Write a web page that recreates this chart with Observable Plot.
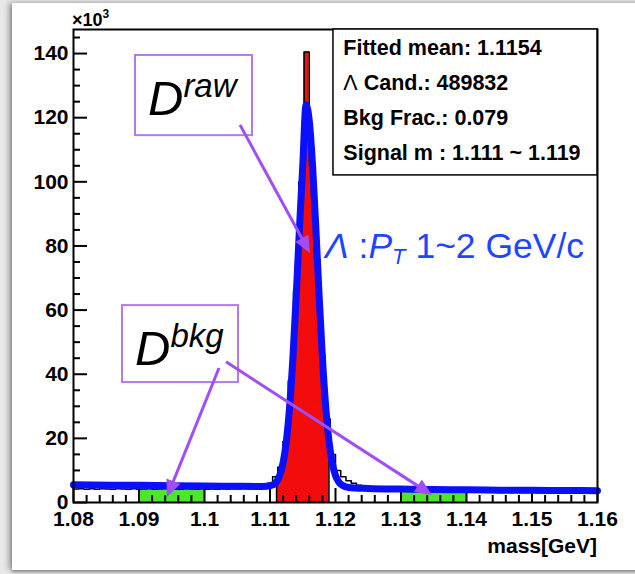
<!DOCTYPE html>
<html>
<head>
<meta charset="utf-8">
<script src="https://cdn.jsdelivr.net/npm/d3@7"></script>
<script src="https://cdn.jsdelivr.net/npm/@observablehq/plot@0.6"></script>
<style>
  html, body { margin: 0; padding: 0; background: #fff; }
  #wrap { position: relative; width: 635px; height: 574px; overflow: hidden; background: #e9e9e9; }
  #card { position: absolute; left: 12px; top: 3px; width: 640px; height: 567px; background: #fff;
          box-shadow: -3px 0 6px rgba(0,0,0,0.35), 0 2px 3px rgba(0,0,0,0.3); }
  #chart { position: absolute; left: 0; top: 0; }
</style>
</head>
<body>
<div id="wrap"><div id="card"></div><div id="chart"></div></div>
<script>
// ---------------- data ----------------
const massMin = 1.08, massMax = 1.16, binWidth = 0.0008, yMax = 147.5;   // counts in units of 10^3
const counts = [
  4.2, 4.3, 4.1, 4.25, 4.15, 4.3, 4.2, 4.1, 4.25, 4.2,
  4.15, 4.3, 4.1, 4.2, 4.25, 4.1, 4.2, 4.3, 4.15, 4.2,
  4.1, 4.25, 4.2, 4.1, 4.3, 4.15, 4.2, 4.1, 4.25, 4.2,
  4.3, 4.2, 4.35, 4.3, 4.5, 4.9, 5.4, 6.0, 8.0, 11,
  19, 38, 66, 100, 140.5, 105, 76, 46, 26, 15,
  10, 8, 6.8, 6.0, 5.4, 4.9, 4.5, 4.2, 4.0, 3.9,
  3.8, 3.7, 3.65, 3.5, 3.55, 3.45, 3.4, 3.5, 3.4, 3.35,
  3.4, 3.3, 3.4, 3.3, 3.25, 3.3, 3.2, 3.3, 3.2, 3.25,
  3.2, 3.15, 3.2, 3.1, 3.2, 3.15, 3.1, 3.2, 3.1, 3.15,
  3.1, 3.05, 3.1, 3.15, 3.0, 3.1, 3.05, 3.1, 3.0, 3.1
];
const fitMass = [1.080, 1.090, 1.100, 1.105, 1.108, 1.1095, 1.1105, 1.111, 1.1115, 1.112, 1.1125, 1.113,
  1.1135, 1.114, 1.1145, 1.115, 1.1155, 1.116, 1.1165, 1.117, 1.1175, 1.118, 1.1185, 1.119, 1.1195,
  1.120, 1.1205, 1.121, 1.122, 1.125, 1.130, 1.135, 1.140, 1.145, 1.150, 1.155, 1.160];
const fitValue = [5.5, 5.35, 5.15, 5.05, 5.0, 5.1, 5.5, 6.5, 8.5, 12.4, 19.2, 30,
  45.2, 64.4, 85.6, 105, 124, 118.9, 105, 85.6, 64.4, 45.2, 30, 19.2, 12.4,
  8.4, 6.4, 5.4, 4.7, 4.4, 4.2, 4.05, 3.95, 3.85, 3.8, 3.75, 3.7];
const signalRange = [1.111, 1.119];
const bkgRanges = [[1.09, 1.10], [1.13, 1.14]];
const xTicks = [1.08, 1.09, 1.10, 1.11, 1.12, 1.13, 1.14, 1.15, 1.16];
const xTickLabels = ["1.08", "1.09", "1.1", "1.11", "1.12", "1.13", "1.14", "1.15", "1.16"];
const yTicks = [0, 20, 40, 60, 80, 100, 120, 140];
const yTickLabels = ["0", "20", "40", "60", "80", "100", "120", "140"];
const statLines = ["Fitted mean: 1.1154", "Λ Cand.: 489832", "Bkg Frac.: 0.079", "Signal m : 1.111 ~ 1.119"];
const ptLabelParts = ["Λ", " :", "P", "T", " 1~2 GeV/c"];
const xAxisTitle = "mass[GeV]";

// annotation placement (data coordinates)
const statBox = {x1: 1.11969, x2: 1.16, y1: 102.0, y2: 147.5};
const statTextMass = 1.12127;
const statTextY = [139.3, 128.4, 117.6, 106.5];
const annotBoxes = [
  {x1: 1.08947, x2: 1.10733, y1: 114.4, y2: 139.4, sup: "raw", m: 1.09145, v: 120.7},
  {x1: 1.08748, x2: 1.10519, y1: 37.4, y2: 61.4, sup: "bkg", m: 1.08947, v: 42.7}
];
const arrows = [
  {m1: 1.1055, v1: 117.6, m2: 1.11618, v2: 77.6},
  {m1: 1.10229, v1: 41.8, m2: 1.09435, v2: 1.56},
  {m1: 1.10336, v1: 43.7, m2: 1.13481, v2: 2.18}
];
const ptLabelPos = {m: 1.11847, v: 76.1};

// ---------------- derived tables ----------------
const bins = counts.map((c, i) => ({lo: massMin + i * binWidth, hi: massMin + (i + 1) * binWidth, c}));
// step outline of the histogram restricted to a mass range (one series per range)
function rangeSteps(r, key) {
  const inside = bins.filter(b => b.hi > r[0] && b.lo < r[1]);
  const pts = inside.map(b => ({m: Math.max(b.lo, r[0]), c: b.c, key}));
  pts.push({m: r[1], c: inside[inside.length - 1].c, key});
  return pts;
}
const redSteps = rangeSteps(signalRange, "sig");
const greenSteps = bkgRanges.flatMap((r, i) => rangeSteps(r, "bkg" + i));
const steps = bins.map(b => ({m: b.lo, c: b.c})).concat([{m: massMax, c: counts[counts.length - 1]}]);
const redEdges = [redSteps[0], redSteps[redSteps.length - 1]];
const fit = fitMass.map((m, i) => ({m, v: fitValue[i]}));
const yMinor = d3.range(5, 146, 5).filter(v => v % 20 !== 0);
const xMinor = d3.range(0, 41).map(i => massMin + i * 0.002).filter((v, i) => i % 5 !== 0);

const FONT = "'Liberation Sans', Arial, Helvetica, sans-serif";
const GREEN = "#4fe62a", RED = "#f20c0c", BLUE = "#0a10ff", PURPLE = "#a04ef6", BOXPURPLE = "#b07af2", LABELBLUE = "#1f45ff";

const chart = Plot.plot({
  width: 635, height: 574,
  marginLeft: 73, marginRight: 38, marginTop: 29, marginBottom: 72,
  x: {domain: [massMin, massMax]},
  y: {domain: [0, yMax]},
  style: {background: "transparent", fontFamily: FONT, fontSize: "21px", fontWeight: "bold", color: "#000", overflow: "visible"},
  marks: [
    Plot.areaY(greenSteps, {x: "m", y: "c", z: "key", curve: "step-after", fill: GREEN}),
    Plot.areaY(redSteps, {x: "m", y: "c", z: "key", curve: "step-after", fill: RED}),
    Plot.ruleX(redEdges, {x: "m", y1: 0, y2: "c", stroke: "#000", strokeWidth: 1.5}),
    Plot.line(steps, {x: "m", y: "c", curve: "step-after", stroke: "#000", strokeWidth: 1.5}),
    Plot.axisY(yTicks, {tickSize: -14, fill: "none", label: null, strokeWidth: 2}),
    Plot.axisY(yMinor, {tickSize: -7, fill: "none", label: null, strokeWidth: 2}),
    Plot.axisX(xTicks, {tickSize: -14, fill: "none", label: null, strokeWidth: 2}),
    Plot.axisX(xMinor, {tickSize: -7, fill: "none", label: null, strokeWidth: 2}),
    Plot.line(fit, {x: "m", y: "v", stroke: BLUE, strokeWidth: 7, curve: "monotone-x", strokeLinejoin: "round"}),
    Plot.frame({stroke: "#000", strokeWidth: 2}),
    Plot.axisY(yTicks, {tickSize: 0, tickPadding: 5, label: null, fontSize: 21, fontWeight: "bold",
      tickFormat: d => yTickLabels[yTicks.indexOf(d)]}),
    Plot.axisX(xTicks, {tickSize: 0, tickPadding: 9, label: null, fontSize: 21, fontWeight: "bold",
      tickFormat: d => xTickLabels[xTicks.findIndex(t => Math.abs(t - d) < 1e-9)]}),
    Plot.rect([statBox], {x1: "x1", x2: "x2", y1: "y1", y2: "y2", fill: "white", stroke: "#000", strokeWidth: 1.5}),
    Plot.rect(annotBoxes, {x1: "x1", x2: "x2", y1: "y1", y2: "y2", fill: "none", stroke: BOXPURPLE, strokeWidth: 2})
  ]
});
document.getElementById("chart").appendChild(chart);

// ---------------- rich-text annotations and filled arrows ----------------
const svg = d3.select(chart);
const X = v => chart.scale("x").apply(v);
const Y = v => chart.scale("y").apply(v);
const g = svg.append("g").attr("text-anchor", "start");

arrows.forEach(a => {
  const x1 = X(a.m1), y1 = Y(a.v1), x2 = X(a.m2), y2 = Y(a.v2);
  const dx = x2 - x1, dy = y2 - y1, L = Math.hypot(dx, dy), ux = dx / L, uy = dy / L;
  const hl = 17, hw = 7.5;
  const bx = x2 - ux * hl, by = y2 - uy * hl;
  g.append("line").attr("x1", x1).attr("y1", y1).attr("x2", bx + ux * 2).attr("y2", by + uy * 2)
    .attr("stroke", PURPLE).attr("stroke-width", 3);
  g.append("path").attr("d", `M${x2},${y2}L${bx - uy * hw},${by + ux * hw}L${bx + uy * hw},${by - ux * hw}Z`)
    .attr("fill", PURPLE);
});

annotBoxes.forEach(b => {
  const t = g.append("text").attr("x", X(b.m)).attr("y", Y(b.v)).attr("font-family", FONT)
    .attr("font-style", "italic").attr("font-weight", "normal").attr("fill", "#000");
  t.append("tspan").attr("font-size", 49).text("D");
  t.append("tspan").attr("font-size", 33).attr("dy", -18).text(b.sup);
});

// stat box text
statLines.forEach((s, i) => {
  const t = g.append("text").attr("x", X(statTextMass)).attr("y", Y(statTextY[i]))
    .attr("font-family", FONT).attr("font-size", 21.5).attr("font-weight", "bold").attr("fill", "#000");
  if (s.startsWith("Λ")) {
    t.append("tspan").attr("font-weight", "normal").text("Λ");
    t.append("tspan").text(s.slice(1));
  } else t.text(s);
});

// pT label
{
  const t = g.append("text").attr("x", X(ptLabelPos.m)).attr("y", Y(ptLabelPos.v))
    .attr("font-family", FONT).attr("font-size", 35.5).attr("font-weight", "normal").attr("fill", LABELBLUE);
  t.append("tspan").attr("font-style", "italic").text(ptLabelParts[0]);
  t.append("tspan").text(ptLabelParts[1]);
  t.append("tspan").attr("font-style", "italic").text(ptLabelParts[2]);
  t.append("tspan").attr("font-style", "italic").attr("font-size", 22).attr("dy", 6).text(ptLabelParts[3]);
  t.append("tspan").attr("dy", -6).text(ptLabelParts[4]);
}

// x10^3 and axis title
{
  const t = g.append("text").attr("x", X(massMin) - 1).attr("y", Y(yMax) - 3)
    .attr("font-family", FONT).attr("font-size", 18).attr("font-weight", "bold").attr("fill", "#000");
  t.append("tspan").text("×10");
  t.append("tspan").attr("font-size", 12).attr("dy", -8).text("3");
  g.append("text").attr("x", X(massMax)).attr("y", Y(0) + 51).attr("text-anchor", "end")
    .attr("font-family", FONT).attr("font-size", 21).attr("font-weight", "bold").attr("fill", "#000")
    .text(xAxisTitle);
}
</script>
</body>
</html>
